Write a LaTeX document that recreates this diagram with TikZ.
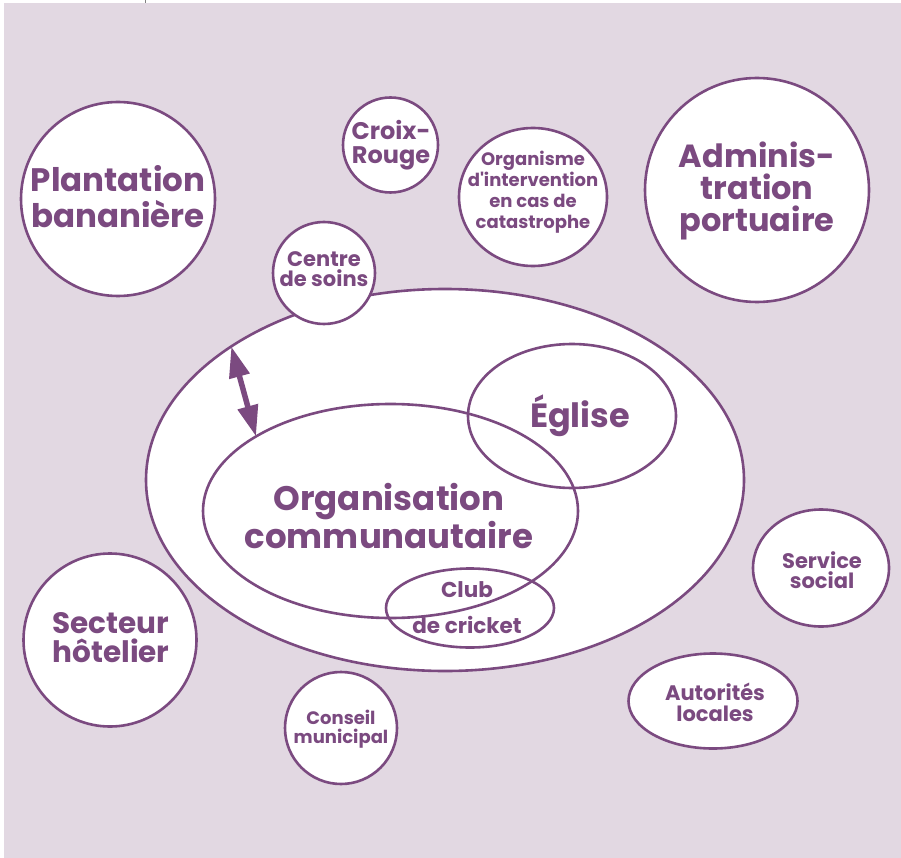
\documentclass[tikz,border=0pt]{standalone}
\usepackage{fontspec}
\setmainfont{Poppins}
\usetikzlibrary{shapes.geometric,arrows.meta}
\definecolor{bg}{RGB}{226,216,226}
\definecolor{pur}{RGB}{123,74,128}
\newcommand\fsz[2]{\bfseries\fontsize{#1}{#2}\selectfont}
\begin{document}
\begin{tikzpicture}[x=1pt,y=-1pt,
  bub/.style={draw=pur,line width=2.6pt,fill=white,inner sep=0pt,outer sep=0pt},
  circ/.style={bub,circle,minimum size=#1},
  ell/.style 2 args={bub,ellipse,minimum width=#1,minimum height=#2},
  ring/.style 2 args={draw=pur,line width=2.6pt,inner sep=0pt,outer sep=0pt,ellipse,minimum width=#1,minimum height=#2},
  lbl/.style={text=pur,align=center,anchor=base,inner sep=0pt}]
\useasboundingbox (0,0) rectangle (901,858);
\fill[bg] (4,3) rectangle (901,858);
\draw[gray,line width=0.6pt] (145,0) -- (145,3);
% shapes
\node[circ=194] (plant) at (118,199) {};
\node[circ=95] (croix) at (390.5,145) {};
\node[ell={148}{138}] (orgi) at (533,197) {};
\node[circ=224] (admin) at (757,190) {};
\node[ell={598}{382}] (big) at (445,480) {};
\node[circ=102] (soins) at (324,273) {};
\node[ring={375}{214}] (org) at (390.5,511) {};
\node[ring={208}{144}] (egl) at (572,416) {};
\node[ring={168}{79}] (club) at (470,608) {};
\node[ell={136}{117}] (serv) at (821,568) {};
\node[ell={169}{95}] (auto) at (713,701) {};
\node[circ=173] (hotel) at (110,640) {};
\node[circ=112] (cons) at (341,728) {};
% arrow
\draw[pur,line width=5.5pt,{Triangle[length=31pt,width=20pt]}-{Triangle[length=31pt,width=20pt]}] (big.148.8) -- (org.151.7);
% labels (anchored at the baseline of the last line)
\node[lbl,font=\fsz{32.5}{36}] (tplant) at (118,228) {Plantation\\bananière};
\node[lbl,font=\fsz{24}{24}] (tcroix) at (391,164) {Croix-\\Rouge};
\node[lbl,font=\fsz{18}{21}] (torgi) at (533,229) {Organisme\\d\textquotesingle intervention\\en cas de\\catastrophe};
\node[lbl,font=\fsz{32}{32}] (tadmin) at (757,232) {Adminis-\\tration\\portuaire};
\node[lbl,font=\fsz{21}{20}] (tsoins) at (324,287) {Centre\\de soins};
\node[lbl,font=\fsz{33.5}{31}] (tegl) at (580,427) {Église};
\node[lbl,font=\fsz{34}{35}] (torg) at (389,548) {Organisation\\communautaire};
\node[lbl,font=\fsz{21.5}{36}] (tclub) at (467,633) {Club\\de cricket};
\node[lbl,font=\fsz{21}{20}] (tserv) at (822,588) {Service\\social};
\node[lbl,font=\fsz{21}{21}] (tauto) at (715,721) {Autorités\\locales};
\node[lbl,font=\fsz{29.5}{29}] (thotel) at (111,662) {Secteur\\hôtelier};
\node[lbl,font=\fsz{18}{19}] (tcons) at (341,743) {Conseil\\municipal};
\end{tikzpicture}
\end{document}
